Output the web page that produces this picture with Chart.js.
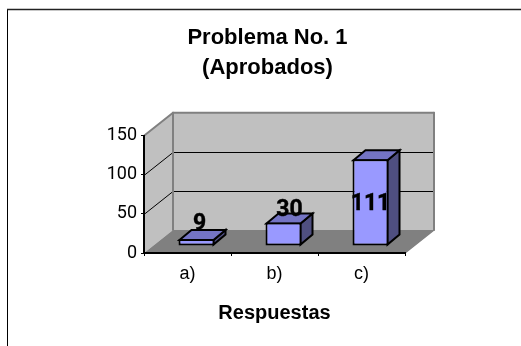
<!DOCTYPE html>
<html><head><meta charset="utf-8">
<style>html,body{margin:0;padding:0;background:#fff;overflow:hidden}canvas{display:block}</style>
<script src="https://cdn.jsdelivr.net/npm/chart.js@4/dist/chart.umd.min.js"></script>
</head><body><canvas id="c" width="521" height="346"></canvas>
<script>
const categories = ['a)', 'b)', 'c)'];
const aprobados = [9, 30, 111];
const yTicks = [0, 50, 100, 150];
const titleLines = ['Problema No. 1', '(Aprobados)'];
const xTitle = 'Respuestas';
const labelLift = [15, 12, -45];
const labelShift = [3, 6, 0];

const WALL = {dx: 29, dy: -23};
const BAR_SHIFT = {dx: 9, dy: -7};
const BAR_DEPTH = {dx: 12, dy: -10};
const FONT = '"Liberation Sans", Arial, sans-serif';
const DIGITS = 'Roboto, "Liberation Sans", sans-serif';

function poly(ctx, pts, fill, stroke, lw) {
  ctx.beginPath();
  pts.forEach((p, i) => i ? ctx.lineTo(p[0], p[1]) : ctx.moveTo(p[0], p[1]));
  ctx.closePath();
  if (fill) { ctx.fillStyle = fill; ctx.fill(); }
  if (stroke) { ctx.strokeStyle = stroke; ctx.lineWidth = lw; ctx.lineJoin = 'miter'; ctx.stroke(); }
}
function line(ctx, x1, y1, x2, y2, color, lw) {
  ctx.beginPath(); ctx.moveTo(x1, y1); ctx.lineTo(x2, y2);
  ctx.strokeStyle = color; ctx.lineWidth = lw; ctx.stroke();
}

const scene = {
  id: 'scene',
  beforeDraw(chart) {
    const {ctx, chartArea: a, scales: {y}} = chart;
    const {dx, dy} = WALL;
    ctx.save();
    line(ctx, 7.5, 10, 7.5, 346, '#000', 1);
    line(ctx, 7, 9.5, 521, 9.5, '#222', 1.5);
    poly(ctx, [[a.left + dx, a.top + dy], [a.right + dx, a.top + dy], [a.right + dx, a.bottom + dy], [a.left + dx, a.bottom + dy]], '#C0C0C0');
    poly(ctx, [[a.left, a.top], [a.left + dx, a.top + dy], [a.left + dx, a.bottom + dy], [a.left, a.bottom]], '#C0C0C0');
    yTicks.slice(1, -1).forEach(v => {
      const py = Math.round(y.getPixelForValue(v)) + 0.5;
      line(ctx, a.left, py, a.left + dx, py + dy, '#000', 1);
      line(ctx, a.left + dx, py + dy, a.right + dx, py + dy, '#000', 1);
    });
    poly(ctx, [[a.left, a.bottom], [a.right, a.bottom], [a.right + dx, a.bottom + dy], [a.left + dx, a.bottom + dy]], '#808080');
    ctx.lineCap = 'round';
    const g = '#808080';
    line(ctx, a.left + dx, a.top + dy, a.right + dx, a.top + dy, g, 2);
    line(ctx, a.left + dx, a.top + dy, a.left + dx, a.bottom + dy, g, 2);
    line(ctx, a.right + dx, a.top + dy, a.right + dx, a.bottom + dy, g, 2);
    line(ctx, a.left, a.top, a.left + dx, a.top + dy, g, 2);
    line(ctx, a.right, a.bottom, a.right + dx, a.bottom + dy, g, 1.5);
    ctx.restore();
  },
  beforeDatasetDraw(chart) {
    const ctx = chart.ctx;
    ctx.save();
    ctx.translate(BAR_SHIFT.dx, BAR_SHIFT.dy);
    const {dx, dy} = BAR_DEPTH;
    chart.getDatasetMeta(0).data.forEach(b => {
      const l = b.x - b.width / 2 + 1, r = b.x + b.width / 2 - 1, t = b.y + 1, bt = b.base - 1;
      poly(ctx, [[r, t], [r + dx, t + dy], [r + dx, bt + dy], [r, bt]], '#4F4F80', '#000', 2);
      poly(ctx, [[l, t], [l + dx, t + dy], [r + dx, t + dy], [r, t]], '#7474C4', '#000', 2);
    });
  },
  afterDatasetDraw(chart) { chart.ctx.restore(); },
  afterDatasetsDraw(chart) {
    const ctx = chart.ctx;
    ctx.save();
    ctx.fillStyle = '#000';
    ctx.strokeStyle = '#000';
    ctx.lineWidth = 0.4;
    ctx.font = 'bold 23px ' + DIGITS;
    ctx.textAlign = 'center';
    ctx.textBaseline = 'middle';
    chart.getDatasetMeta(0).data.forEach((b, i) => {
      const x = b.x + BAR_SHIFT.dx + labelShift[i], y = b.y + BAR_SHIFT.dy - labelLift[i];
      ctx.fillText(String(aprobados[i]), x, y);
      ctx.strokeText(String(aprobados[i]), x, y);
    });
    ctx.restore();
  }
};

new Chart(document.getElementById('c'), {
  type: 'bar',
  data: {labels: categories, datasets: [{
    data: aprobados, backgroundColor: '#9999FF', borderColor: '#000', borderWidth: 2,
    borderSkipped: false, categoryPercentage: 1, barPercentage: 0.414, clip: false
  }]},
  plugins: [scene],
  options: {
    responsive: false, animation: false, devicePixelRatio: 1,
    layout: {padding: {left: 14, right: 0, top: 0, bottom: 21}},
    plugins: {
      legend: {display: false}, tooltip: {enabled: false},
      title: {display: true, text: titleLines, color: '#000',
        font: {family: FONT, size: 22, weight: 'bold', lineHeight: 1.36},
        padding: {top: 23, bottom: 53}}
    },
    scales: {
      x: {
        grid: {drawOnChartArea: false, color: '#000', tickLength: 3, offset: true},
        border: {color: '#000', width: 2},
        ticks: {color: '#000', font: {family: FONT, size: 18}, padding: 7, maxRotation: 0},
        title: {display: true, text: xTitle, color: '#000',
          font: {family: FONT, size: 20, weight: 'bold'}, padding: {top: 0, bottom: 0}},
        afterFit(s) { s.height = 72; }
      },
      y: {
        min: 0, max: 150,
        afterBuildTicks(s) { s.ticks = yTicks.map(v => ({value: v})); },
        grid: {drawOnChartArea: false, color: '#000', tickLength: 3},
        border: {color: '#000', width: 2},
        ticks: {color: '#000', font: {family: DIGITS, size: 18}, padding: 4},
        afterFit(s) { s.width = 130; }
      },
      spacer: {
        type: 'linear', position: 'right', min: 0, max: 1,
        grid: {display: false}, border: {display: false},
        ticks: {callback: () => ''},
        afterFit(s) { s.width = 116; }
      }
    }
  }
});
</script></body></html>
